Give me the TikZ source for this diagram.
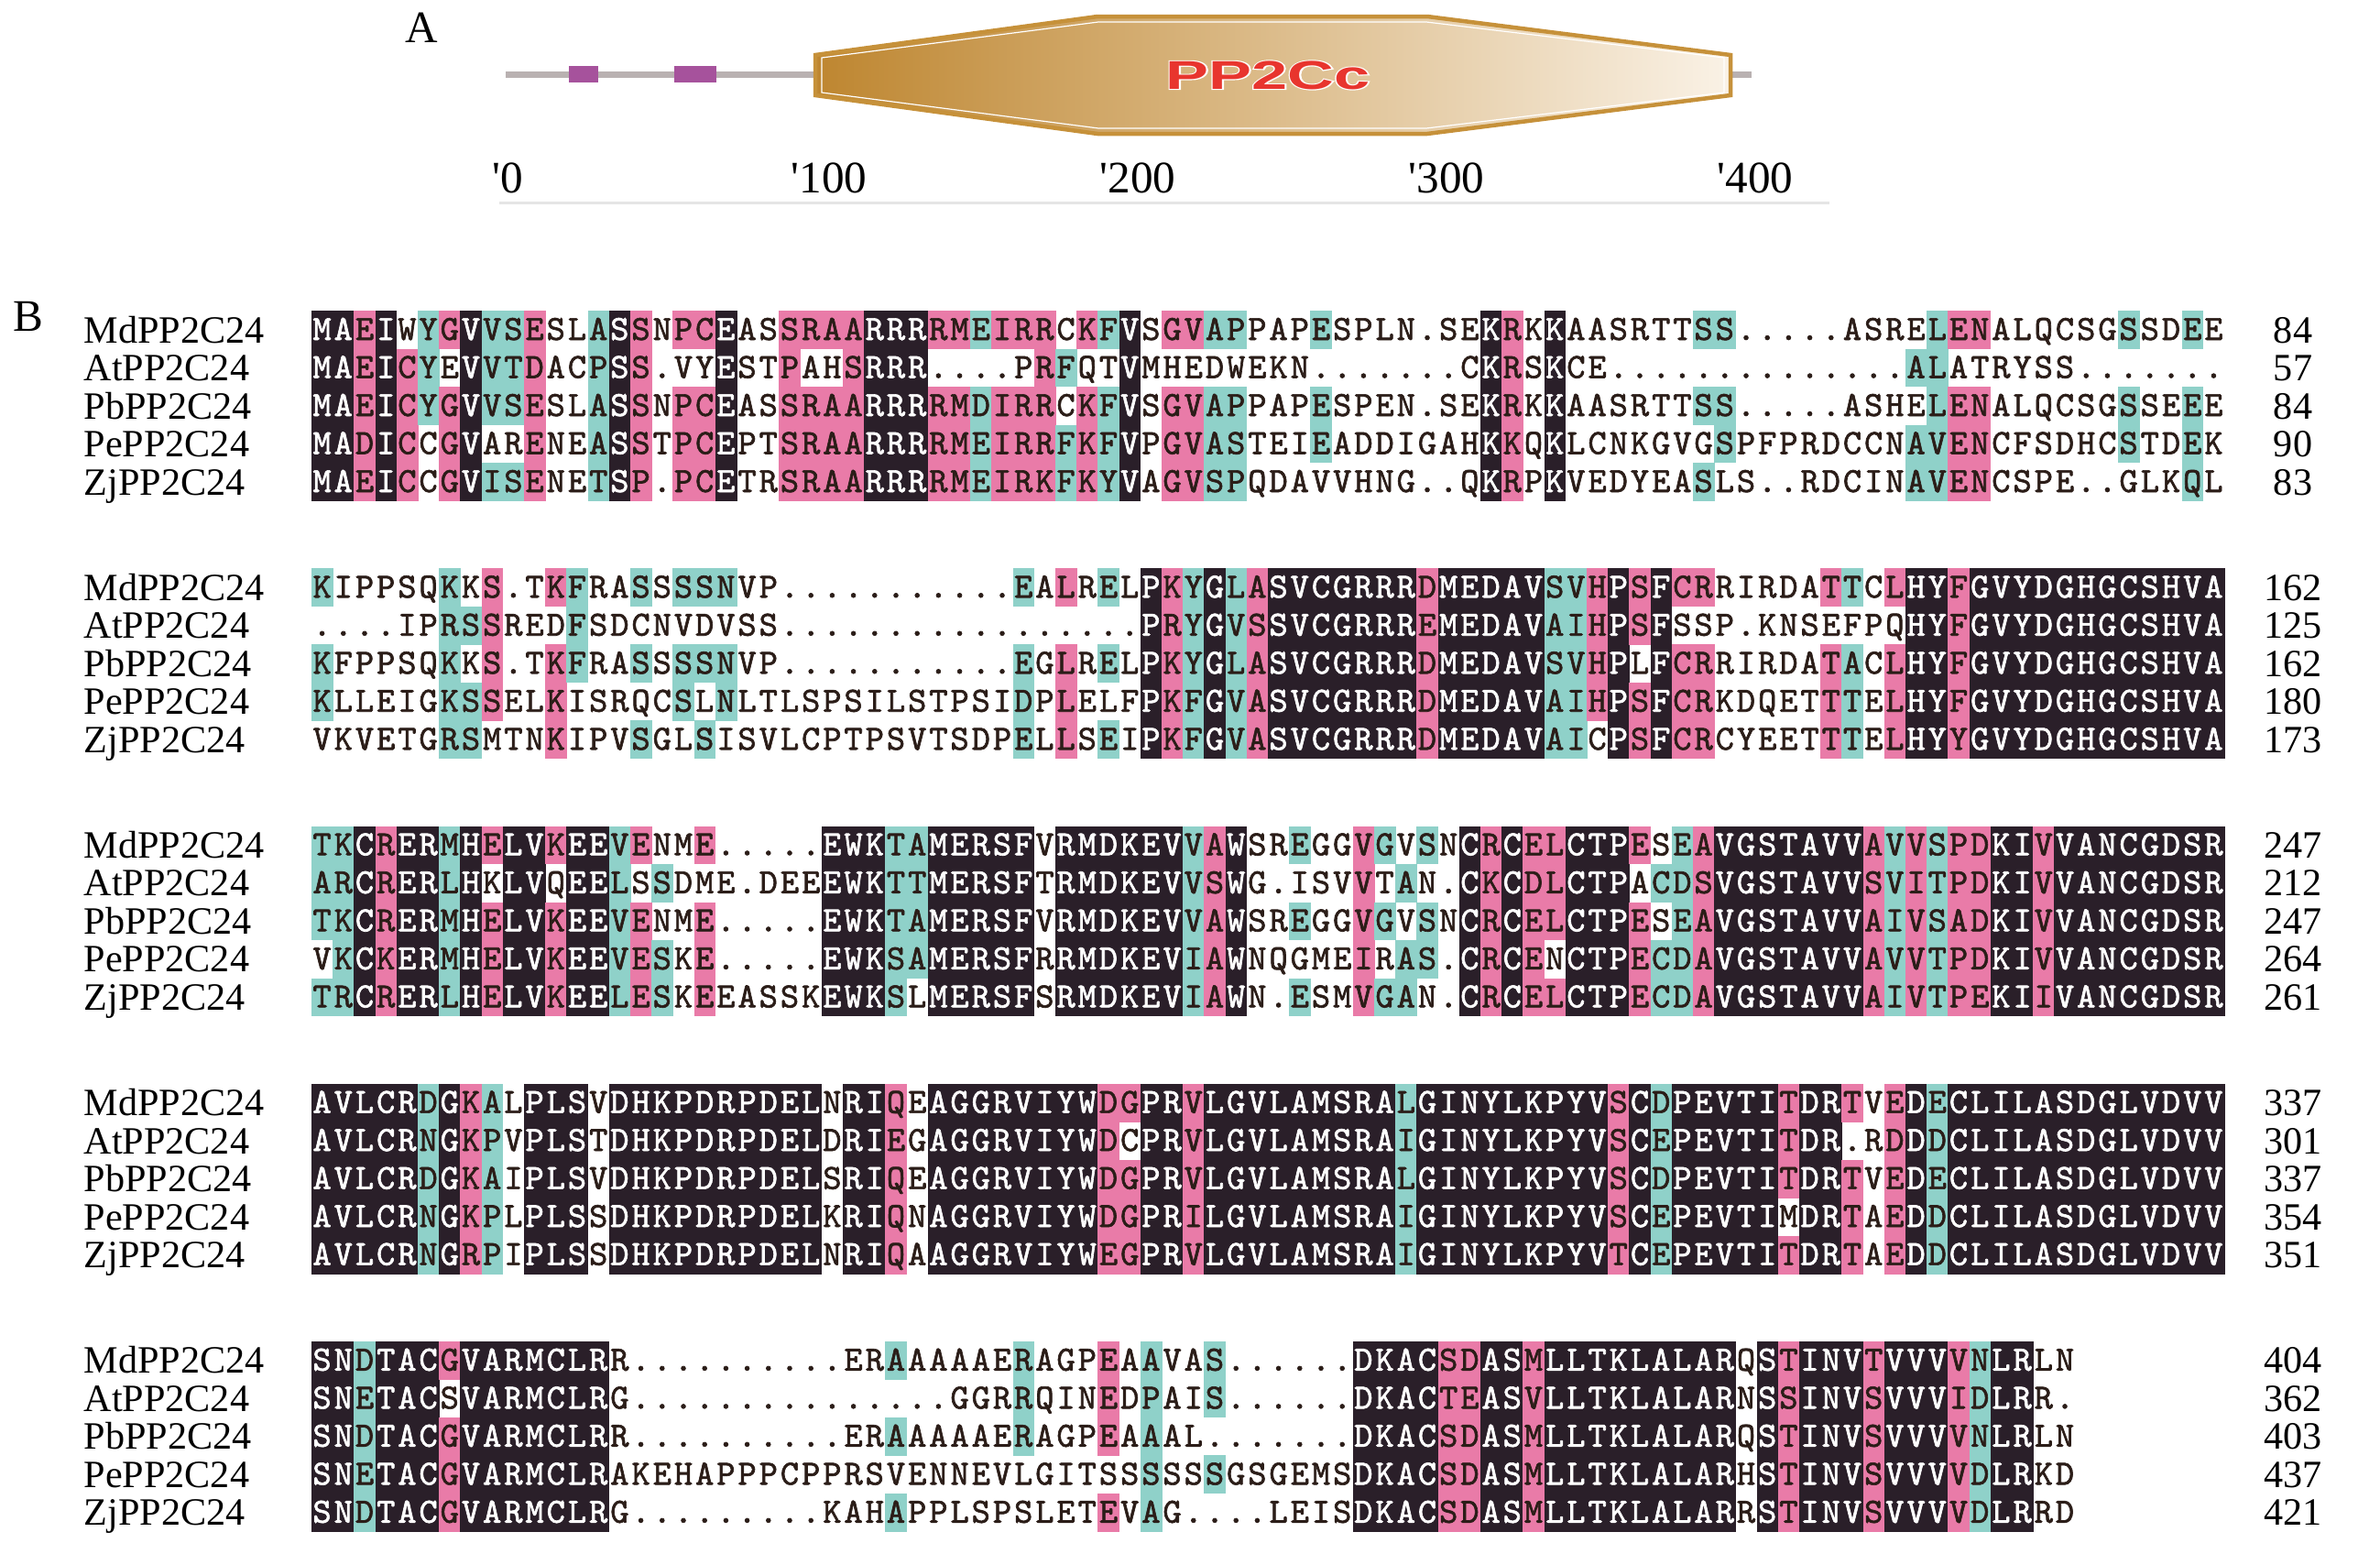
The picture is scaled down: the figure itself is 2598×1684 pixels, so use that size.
\documentclass[tikz,border=0pt]{standalone}
\usepackage{fontspec}
\setmainfont{Liberation Serif}
\setsansfont{Liberation Sans}
\newfontfamily\seqfont{lmmono10-regular.otf}[FakeBold=1.6]
\usepackage{xstring}

\definecolor{shk}{HTML}{2A1F29}
\definecolor{shp}{HTML}{E97BA8}
\definecolor{shc}{HTML}{8FD1C9}
\definecolor{seqink}{HTML}{2B1D18}
\definecolor{protline}{HTML}{B9B1B1}
\definecolor{motifcol}{HTML}{A6529C}
\definecolor{domdark}{HTML}{BE8630}
\definecolor{dommid}{HTML}{D6A95C}
\definecolor{domlight}{HTML}{FAF2E6}
\definecolor{domedge}{HTML}{C6913A}
\definecolor{domtext}{HTML}{E8352E}

\tikzset{
  panel/.style={font=\fontsize{14}{16}\selectfont, inner sep=0pt},
  seqname/.style={font=\fontsize{12}{14}\selectfont, anchor=base west, inner sep=0pt},
  seqend/.style={font=\fontsize{12}{14}\selectfont, anchor=base, inner sep=0pt},
  seqch/.style={font=\fontsize{11}{12}\seqfont, anchor=base, inner sep=0pt},
  ticklbl/.style={font=\fontsize{14}{16}\selectfont, anchor=base west, inner sep=0pt},
  domlbl/.style={font=\sffamily\bfseries\fontsize{12.5}{14}\selectfont, inner sep=0pt},
}

% residue classes used for the shading
\newcount\nsame \newcount\nbest
\newcommand\setgrp[2]{\expandafter\def\csname grp#1\endcsname{#2}}
\setgrp I1\setgrp L1\setgrp V1\setgrp M1
\setgrp F2\setgrp Y2\setgrp W2
\setgrp K3\setgrp R3\setgrp H3
\setgrp D4\setgrp E4\setgrp N4\setgrp Q4
\setgrp A5\setgrp S5\setgrp T5\setgrp P5
\setgrp C6\setgrp G7

\newcommand\cntsame[1]{\nsame=0
  \ifx#1\resA\advance\nsame by 1 \fi
  \ifx#1\resB\advance\nsame by 1 \fi
  \ifx#1\resC\advance\nsame by 1 \fi
  \ifx#1\resD\advance\nsame by 1 \fi
  \ifx#1\resE\advance\nsame by 1 \fi}
\newcommand\trycons[1]{%
  \ifcsname grp#1\endcsname
    \cntsame#1%
    \ifnum\nsame>\nbest \nbest=\nsame \let\cons=#1\fi
  \fi}
\newcommand\shadelevel{%
  \ifcase\nbest\or\or\or\def\fillc{shc}\or\def\fillc{shp}\else\def\fillc{shk}\def\txtc{white}\fi}
\newcommand\seqcell[3]{% residue, y of row centre, node name
  \pgfmathsetmacro\yc{#2}%
  \def\fillc{}\def\txtc{seqink}%
  \ifcsname grp#1\endcsname\ifnum\nbest>2
    \ifx#1\cons\shadelevel
    \else\ifnum\csname grp#1\endcsname=\csname grp\cons\endcsname\relax\shadelevel\fi
    \fi
  \fi\fi
  \ifx\fillc\empty\else\fill[\fillc] (\xl,\yc-20.9) rectangle ++(23.7,41.8);\fi
  \node[seqch,text=\txtc] (#3) at (\xl+11.6,\yc+11) {#1};
}
\newcommand\alnblock[8]{% tag, y of first row, columns, five sequences
  \foreach \col in {1,...,#3}{%
    \StrChar{#4}{\col}[\resA]\StrChar{#5}{\col}[\resB]\StrChar{#6}{\col}[\resC]%
    \StrChar{#7}{\col}[\resD]\StrChar{#8}{\col}[\resE]%
    \nbest=0 \let\cons\relax
    \trycons\resA\trycons\resB\trycons\resC\trycons\resD\trycons\resE
    \pgfmathsetmacro\xl{340+(\col-1)*23.2}%
    \seqcell\resA{#2}{#1a\col}%
    \seqcell\resB{#2+41.5}{#1b\col}%
    \seqcell\resC{#2+83}{#1c\col}%
    \seqcell\resD{#2+124.5}{#1d\col}%
    \seqcell\resE{#2+166}{#1e\col}%
  }}

\begin{document}
\begin{tikzpicture}[x=0.1mm,y=-0.1mm]
\useasboundingbox (0,0) rectangle (2598,1684);

% A: domain structure
\node[panel] (labA) at (460,30) {A};
\draw[protline, line width=0.7mm] (552,81) -- (1912,81);
\fill[motifcol] (621,72) rectangle (653,90);
\fill[motifcol] (736,72) rectangle (782,90);
\shade[left color=domdark, middle color=dommid, right color=domlight]
  (890,60) -- (1198,18) -- (1558,18) -- (1889,60) -- (1889,104) -- (1558,146) -- (1198,146) -- (890,104) -- cycle;
\draw[domedge, line width=0.45mm]
  (890,60) -- (1198,18) -- (1558,18) -- (1889,60) -- (1889,104) -- (1558,146) -- (1198,146) -- (890,104) -- cycle;
\draw[white, line width=0.12mm]
  (897,63) -- (1199,24) -- (1557,24) -- (1882,63) -- (1882,101) -- (1557,140) -- (1199,140) -- (897,101) -- cycle;
\node[domlbl, text=white!85!domlight] (domglow) at (1384,82) {\scalebox{1.6}[1]{\addfontfeature{FakeBold=5}PP2Cc}};
\node[domlbl, text=domtext] (dom) at (1384,82) {\scalebox{1.6}[1]{PP2Cc}};
\foreach \t/\xx [count=\i from 0] in {0/537,100/863,200/1200,300/1537,400/1874}
  \node[ticklbl] (tick\i) at (\xx,210) {\textquotesingle\t};
\draw[gray!20, line width=0.3mm] (545,221) -- (1997,221);

% B: alignment
\node[panel] (labB) at (31,345) {B};
\foreach \nm [count=\r from 0] in {MdPP2C24,AtPP2C24,PbPP2C24,PePP2C24,ZjPP2C24}
  \foreach \b in {0,...,4}
    \node[seqname] (name\b\r) at (91,{360+\b*281.2+\r*41.5+14}) {\nm};

\alnblock{s1}{360}{90}
  {MAEIWYGVVSESLASSNPCEASSRAARRRRMEIRRCKFVSGVAPPAPESPLN.SEKRKKAASRTTSS.....ASRELENALQCSGSSDEE}
  {MAEICYEVVTDACPSS.VYESTPAHSRRR....PRFQTVMHEDWEKN.......CKRSKCE..............ALATRYSS.......}
  {MAEICYGVVSESLASSNPCEASSRAARRRRMDIRRCKFVSGVAPPAPESPEN.SEKRKKAASRTTSS.....ASHELENALQCSGSSEEE}
  {MADICCGVARENEASSTPCEPTSRAARRRRMEIRRFKFVPGVASTEIEADDIGAHKKQKLCNKGVGSPFPRDCCNAVENCFSDHCSTDEK}
  {MAEICCGVISENETSP.PCETRSRAARRRRMEIRKFKYVAGVSPQDAVVHNG..QKRPKVEDYEASLS..RDCINAVENCSPE..GLKQL}
\alnblock{s2}{641.2}{90}
  {KIPPSQKKS.TKFRASSSSNVP...........EALRELPKYGLASVCGRRRDMEDAVSVHPSFCRRIRDATTCLHYFGVYDGHGCSHVA}
  {....IPRSSREDFSDCNVDVSS.................PRYGVSSVCGRRREMEDAVAIHPSFSSP.KNSEFPQHYFGVYDGHGCSHVA}
  {KFPPSQKKS.TKFRASSSSNVP...........EGLRELPKYGLASVCGRRRDMEDAVSVHPLFCRRIRDATACLHYFGVYDGHGCSHVA}
  {KLLEIGKSSELKISRQCSLNLTLSPSILSTPSIDPLELFPKFGVASVCGRRRDMEDAVAIHPSFCRKDQETTTELHYFGVYDGHGCSHVA}
  {VKVETGRSMTNKIPVSGLSISVLCPTPSVTSDPELLSEIPKFGVASVCGRRRDMEDAVAICPSFCRCYEETTTELHYYGVYDGHGCSHVA}
\alnblock{s3}{922.4}{90}
  {TKCRERMHELVKEEVENME.....EWKTAMERSFVRMDKEVVAWSREGGVGVSNCRCELCTPESEAVGSTAVVAVVSPDKIVVANCGDSR}
  {ARCRERLHKLVQEELSSDME.DEEEWKTTMERSFTRMDKEVVSWG.ISVVTAN.CKCDLCTPACDSVGSTAVVSVITPDKIVVANCGDSR}
  {TKCRERMHELVKEEVENME.....EWKTAMERSFVRMDKEVVAWSREGGVGVSNCRCELCTPESEAVGSTAVVAIVSADKIVVANCGDSR}
  {VKCKERMHELVKEEVESKE.....EWKSAMERSFRRMDKEVIAWNQGMEIRAS.CRCENCTPECDAVGSTAVVAVVTPDKIVVANCGDSR}
  {TRCRERLHELVKEELESKEEASSKEWKSLMERSFSRMDKEVIAWN.ESMVGAN.CRCELCTPECDAVGSTAVVAIVTPEKIIVANCGDSR}
\alnblock{s4}{1203.6}{90}
  {AVLCRDGKALPLSVDHKPDRPDELNRIQEAGGRVIYWDGPRVLGVLAMSRALGINYLKPYVSCDPEVTITDRTVEDECLILASDGLVDVV}
  {AVLCRNGKPVPLSTDHKPDRPDELDRIEGAGGRVIYWDCPRVLGVLAMSRAIGINYLKPYVSCEPEVTITDR.RDDDCLILASDGLVDVV}
  {AVLCRDGKAIPLSVDHKPDRPDELSRIQEAGGRVIYWDGPRVLGVLAMSRALGINYLKPYVSCDPEVTITDRTVEDECLILASDGLVDVV}
  {AVLCRNGKPLPLSSDHKPDRPDELKRIQNAGGRVIYWDGPRILGVLAMSRAIGINYLKPYVSCEPEVTIMDRTAEDDCLILASDGLVDVV}
  {AVLCRNGRPIPLSSDHKPDRPDELNRIQAAGGRVIYWEGPRVLGVLAMSRAIGINYLKPYVTCEPEVTITDRTAEDDCLILASDGLVDVV}
\alnblock{s5}{1484.8}{83}
  {SNDTACGVARMCLRR..........ERAAAAAERAGPEAAVAS......DKACSDASMLLTKLALARQSTINVTVVVVNLRLN}
  {SNETACSVARMCLRG...............GGRRQINEDPAIS......DKACTEASVLLTKLALARNSSINVSVVVIDLRR.}
  {SNDTACGVARMCLRR..........ERAAAAAERAGPEAAAL.......DKACSDASMLLTKLALARQSTINVSVVVVNLRLN}
  {SNETACGVARMCLRAKEHAPPPCPPRSVENNEVLGITSSSSSSGSGEMSDKACSDASMLLTKLALARHSTINVSVVVVDLRKD}
  {SNDTACGVARMCLRG.........KAHAPPLSPSLETEVAG....LEISDKACSDASMLLTKLALARRSTINVSVVVVDLRRD}

% residue counts at the line ends
\foreach \v [count=\r from 0] in {84,57,84,90,83}
  \node[seqend] (end1\r) at (2503,{360+\r*41.5+14}) {\v};
\foreach \v [count=\r from 0] in {162,125,162,180,173}
  \node[seqend] (end2\r) at (2503,{641.2+\r*41.5+14}) {\v};
\foreach \v [count=\r from 0] in {247,212,247,264,261}
  \node[seqend] (end3\r) at (2503,{922.4+\r*41.5+14}) {\v};
\foreach \v [count=\r from 0] in {337,301,337,354,351}
  \node[seqend] (end4\r) at (2503,{1203.6+\r*41.5+14}) {\v};
\foreach \v [count=\r from 0] in {404,362,403,437,421}
  \node[seqend] (end5\r) at (2503,{1484.8+\r*41.5+14}) {\v};
\end{tikzpicture}
\end{document}
